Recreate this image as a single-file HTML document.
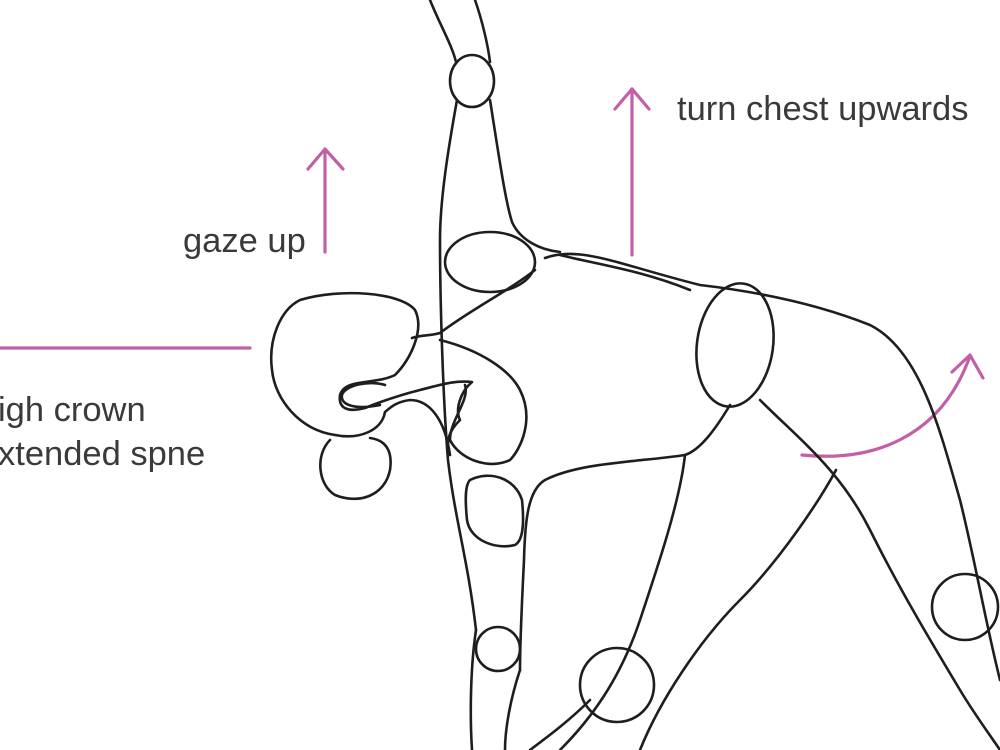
<!DOCTYPE html>
<html><head><meta charset="utf-8"><style>
html,body{margin:0;padding:0;background:#fff;width:1000px;height:750px;overflow:hidden}
svg{display:block}
text{font-family:"Liberation Sans",sans-serif;fill:#3a3a3a;font-weight:normal}
</style></head><body>
<svg width="1000" height="750" viewBox="0 0 1000 750" xmlns="http://www.w3.org/2000/svg">
<g fill="none" stroke="#c25fa6" stroke-width="3.2" stroke-linecap="round" stroke-linejoin="round">
<line x1="0" y1="348" x2="250" y2="348"/>
<line x1="325" y1="252" x2="325" y2="149"/>
<polyline points="308,169 325,149 343,169"/>
<line x1="632" y1="255" x2="632" y2="89"/>
<polyline points="615,109 632,89 649,109"/>
<path d="M802,455 C870,462 940,440 970,356"/>
<polyline points="952,372 970,355 983,378"/>
</g>
<g font-size="34.5">
<text x="183" y="252">gaze up</text>
<text x="677" y="120">turn chest upwards</text>
<text x="-2" y="421">igh crown</text>
<text x="-2" y="465">xtended spne</text>
</g>
<g fill="none" stroke="#1e1e1e" stroke-width="2.6" stroke-linecap="round" stroke-linejoin="round">
<path d="M430,0 C440,25 452,45 456,62"/>
<path d="M475,0 C482,20 488,45 490,62"/>
<ellipse cx="472" cy="81" rx="22" ry="26"/>
<path d="M457,100 C448,150 440,200 440,240 C440,300 443,400 448,460 C455,520 468,560 476,630"/>
<path d="M490,100 C498,150 505,200 512,222 C520,240 540,250 560,252"/>
<ellipse cx="490" cy="262" rx="45" ry="30"/>
<path d="M535,270 C510,290 470,310 440,333 C430,336 420,335 412,338"/>
<path d="M545,258 C580,245 620,265 700,285 C760,292 820,305 870,325 C920,350 940,430 960,500 C975,560 985,620 1000,680"/>
<path d="M560,255 C600,265 640,270 690,290"/>
<ellipse cx="735" cy="345" rx="38" ry="62" transform="rotate(8 735 345)"/>
<path d="M760,400 C800,440 840,470 870,530 C900,590 930,640 960,690 C975,715 990,735 1000,750"/>
<circle cx="965" cy="607" r="33"/>
<path d="M440,340 C480,350 510,370 520,390 C535,420 520,450 510,460 C490,470 460,460 450,440 C450,420 470,400 465,385"/>
<path d="M730,405 C715,430 700,450 685,455 C640,462 580,462 545,480 C528,490 525,520 524,560 C522,600 520,640 520,670"/>
<path d="M470,480 C490,470 515,478 522,500 C524,520 524,540 515,545 C495,550 470,540 467,520 C465,500 465,485 470,480 Z"/>
<path d="M685,455 C680,500 660,560 640,620 C620,680 590,720 560,750"/>
<path d="M836,470 C820,500 780,560 740,600 C700,640 660,700 640,750"/>
<path d="M520,670 C510,700 505,730 505,750"/>
<path d="M476,630 C470,670 470,720 472,750"/>
<circle cx="498" cy="649" r="22"/>
<circle cx="617" cy="685" r="37"/>
<path d="M590,700 C570,720 550,735 530,750"/>
<path d="M300,300 C340,288 400,292 415,310 C425,330 410,360 395,375 C375,385 345,378 340,395 C338,410 350,412 365,408 C380,402 400,395 420,390 C440,385 455,380 472,382 C460,392 455,410 460,420 C450,430 445,440 450,455 C445,420 430,400 410,400 C395,402 390,408 385,412 C382,430 360,440 335,435 C300,430 275,400 272,370 C268,340 280,310 300,300 Z"/>
<path d="M385,385 C370,380 345,385 342,395 C340,405 355,410 380,405"/>
<path d="M330,440 C315,455 318,485 335,495 C360,505 385,495 390,470 C393,450 385,440 370,438"/>
</g>
</svg>
</body></html>
